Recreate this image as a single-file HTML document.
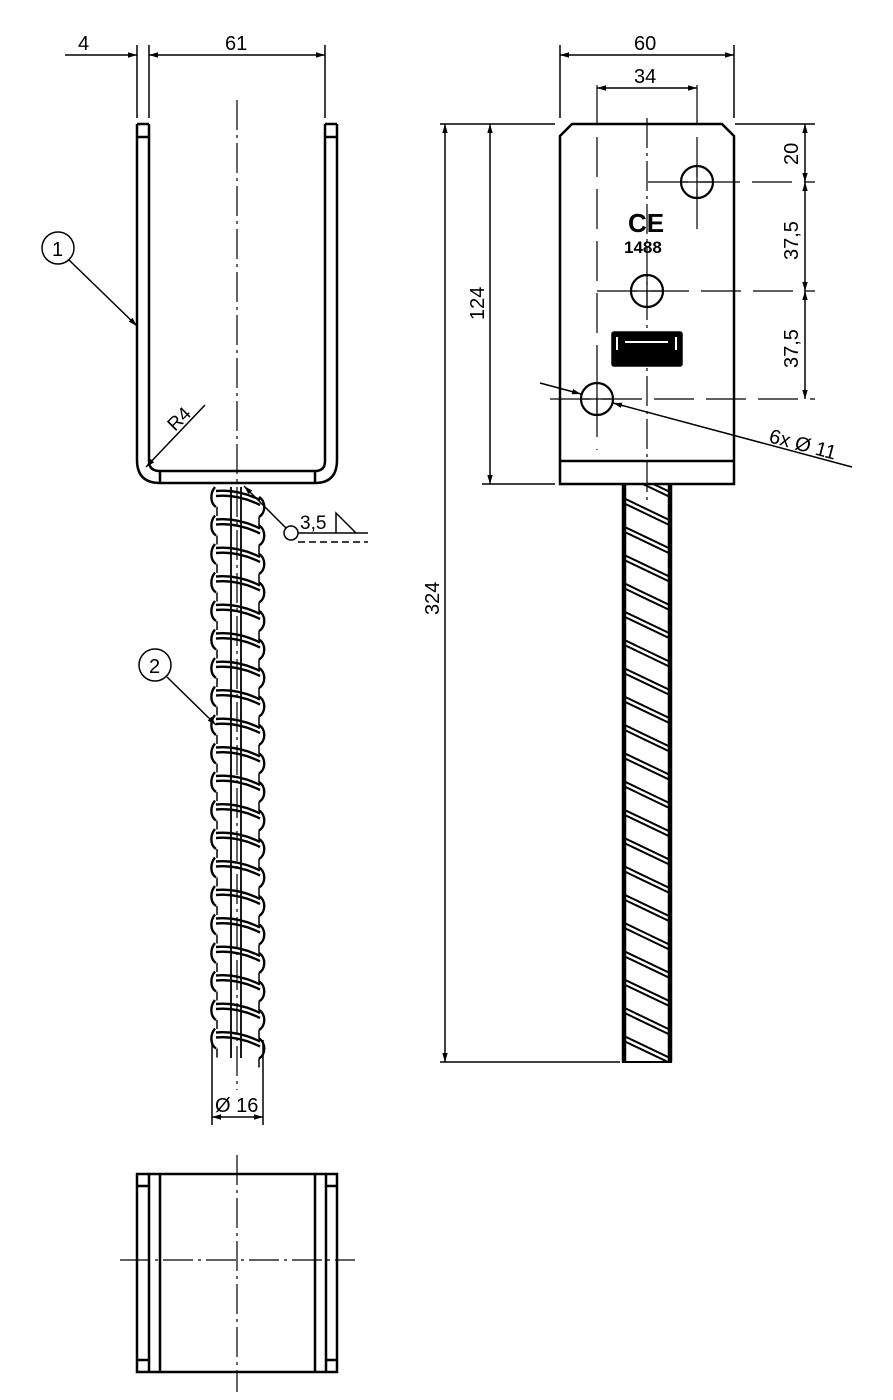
<!DOCTYPE html>
<html><head><style>body{margin:0;background:#fff}svg{display:block}text{font-family:"Liberation Sans",sans-serif;fill:#000}</style></head><body>
<svg id="s" width="893" height="1400" viewBox="0 0 893 1400" xmlns="http://www.w3.org/2000/svg" fill="none" stroke="#000" stroke-width="1.5">
<defs><marker id="a" viewBox="0 0 10 10" refX="10" refY="5" markerWidth="9" markerHeight="9" orient="auto-start-reverse" markerUnits="userSpaceOnUse"><path d="M0,2 L10,5 L0,8z" fill="#000" stroke="none"/></marker>
<clipPath id="cr"><rect x="624" y="485" width="46" height="577"/></clipPath></defs>
<!-- Left U channel -->
<g stroke-width="2.5">
<path d="M137,124 V460 Q137,483 160,483 H315 Q337,483 337,460 V124"/>
<path d="M149,124 V461 Q149,471 160,471 H315 Q325,471 325,461 V124"/>
<path d="M137,124 H149 M325,124 H337 M137,137 H149 M325,137 H337 M160,471 V483 M315,471 V483"/>
</g>
<path d="M237,100 V1090" stroke-dasharray="30,5,3,5" stroke-width="1.2"/>
<path d="M137,45 V118 M149,45 V118 M325,45 V118"/>
<path d="M65,55 H137" marker-end="url(#a)"/>
<path d="M149,55 H325" marker-start="url(#a)" marker-end="url(#a)"/>
<text x="78" y="50" font-size="20" stroke="none">4</text>
<text x="225" y="50" font-size="20" stroke="none">61</text>
<circle cx="58" cy="248" r="16"/><text x="52" y="256" font-size="20" stroke="none">1</text>
<path d="M69,260 L137,326" marker-end="url(#a)"/>
<circle cx="155" cy="665" r="16"/><text x="149" y="673" font-size="20" stroke="none">2</text>
<path d="M167,677 L216,725" marker-end="url(#a)"/>
<path d="M205,405 L146,467" marker-end="url(#a)"/>
<text x="0" y="0" font-size="19" stroke="none" transform="translate(175,432) rotate(-45)">R4</text>
<circle cx="291" cy="533" r="7"/>
<path d="M286,528 L244,486" marker-end="url(#a)"/>
<path d="M298,533 H368"/><path d="M298,542 H368" stroke-dasharray="7,4"/>
<path d="M336,533 V513 L356,533"/>
<text x="300" y="529" font-size="19" stroke="none">3,5</text>
<g id="rb" stroke-width="2.4"></g>
<path d="M212,1040 V1125 M263,1040 V1125"/>
<path d="M212,1117 H238" marker-start="url(#a)"/><path d="M238,1117 H263" marker-end="url(#a)"/>
<text x="215" y="1112" font-size="20" stroke="none">Ø 16</text>
<g stroke-width="2.5"><rect x="137" y="1174" width="200" height="198"/>
<path d="M149,1174 V1372 M160,1174 V1372 M315,1174 V1372 M326,1174 V1372 M137,1186 H149 M137,1360 H149 M326,1186 H337 M326,1360 H337"/></g>
<path d="M237,1155 V1392 M120,1260 H355" stroke-dasharray="30,5,3,5" stroke-width="1.2"/>
<g stroke-width="2.5"><path d="M572,124 H722 L734,136 V484 H560 V136 Z"/><path d="M560,461 H734"/></g>
<circle cx="697" cy="182" r="16" stroke-width="2.2"/><circle cx="647" cy="291" r="16" stroke-width="2.2"/><circle cx="597" cy="399" r="16" stroke-width="2.2"/>
<path d="M647,118 V500" stroke-dasharray="30,5,3,5" stroke-width="1.2"/>
<path d="M597,85 V450 M697,85 V240 M648,182 H815 M597,291 H815 M550,399 H815" stroke-dasharray="40,12" stroke-width="1.2"/>
<path d="M697,166 V198 M681,182 H713 M647,275 V307 M631,291 H663 M597,383 V415 M581,399 H613" stroke-width="1.2"/>
<text x="628" y="232" font-size="26" font-weight="bold" stroke="none">CE</text>
<text x="624" y="253" font-size="17" font-weight="bold" stroke="none">1488</text>
<rect x="612" y="332" width="70" height="34" rx="2" fill="#000"/>
<path d="M617,337 V350 M676,337 V350 M625,342 H668" stroke="#fff" stroke-width="2"/>
<path d="M560,45 V118 M734,45 V118"/>
<path d="M560,55 H734" marker-start="url(#a)" marker-end="url(#a)"/>
<text x="634" y="50" font-size="20" stroke="none">60</text>
<path d="M597,88 H697" marker-start="url(#a)" marker-end="url(#a)"/>
<text x="634" y="83" font-size="20" stroke="none">34</text>
<path d="M735,124 H815"/>
<path d="M805,124 V182" marker-start="url(#a)" marker-end="url(#a)"/>
<path d="M805,182 V291" marker-start="url(#a)" marker-end="url(#a)"/>
<path d="M805,291 V399" marker-start="url(#a)" marker-end="url(#a)"/>
<text font-size="20" stroke="none" transform="translate(798,165) rotate(-90)">20</text>
<text font-size="20" stroke="none" transform="translate(798,260) rotate(-90)">37,5</text>
<text font-size="20" stroke="none" transform="translate(798,368) rotate(-90)">37,5</text>
<path d="M440,124 H555 M482,484 H555 M440,1062 H620"/>
<path d="M490,124 V484" marker-start="url(#a)" marker-end="url(#a)"/>
<text font-size="20" stroke="none" transform="translate(484,320) rotate(-90)">124</text>
<path d="M445,124 V1062" marker-start="url(#a)" marker-end="url(#a)"/>
<text font-size="20" stroke="none" transform="translate(439,615) rotate(-90)">324</text>
<path d="M540,383 L581,394" marker-end="url(#a)"/>
<path d="M852,467 L613,403" marker-end="url(#a)"/>
<text font-size="20" stroke="none" transform="translate(768,442) rotate(15)">6x Ø 11</text>
<g id="rr" stroke-width="2" clip-path="url(#cr)"></g>
<path d="M624,484 V1062 M670,484 V1062" stroke-width="4.5"/>
<path d="M622,1062 H672" stroke-width="2"/>
</svg>
<script>
var ns="http://www.w3.org/2000/svg";
function p(g,d,w){var e=document.createElementNS(ns,"path");e.setAttribute("d",d);if(w)e.setAttribute("stroke-width",w);document.getElementById(g).appendChild(e);}
for(var y=487;y<1050;y+=28.5){
 p("rb","M215,"+y+" C210,"+(y+6)+" 210,"+(y+16)+" 216,"+(y+20));
 p("rb","M259,"+(y+10)+" C266,"+(y+14)+" 266,"+(y+26)+" 259,"+(y+30));
 p("rb","M216,"+(y+4)+" Q238,"+(y+2)+" 260,"+(y+13));
 p("rb","M216,"+(y+9)+" Q238,"+(y+7)+" 260,"+(y+18));
 p("rb","M217,"+(y+20)+" V"+(y+29),"1.5");
 p("rb","M259,"+(y+30)+" V"+(y+39),"1.5");
}
p("rb","M231,487 V1058 M241,487 V1058","1.8");
for(var y=470;y<1070;y+=28.3){
 p("rr","M624,"+y+" L670,"+(y+22));
 p("rr","M624,"+(y+5)+" L670,"+(y+27));
}
</script>
</body></html>
